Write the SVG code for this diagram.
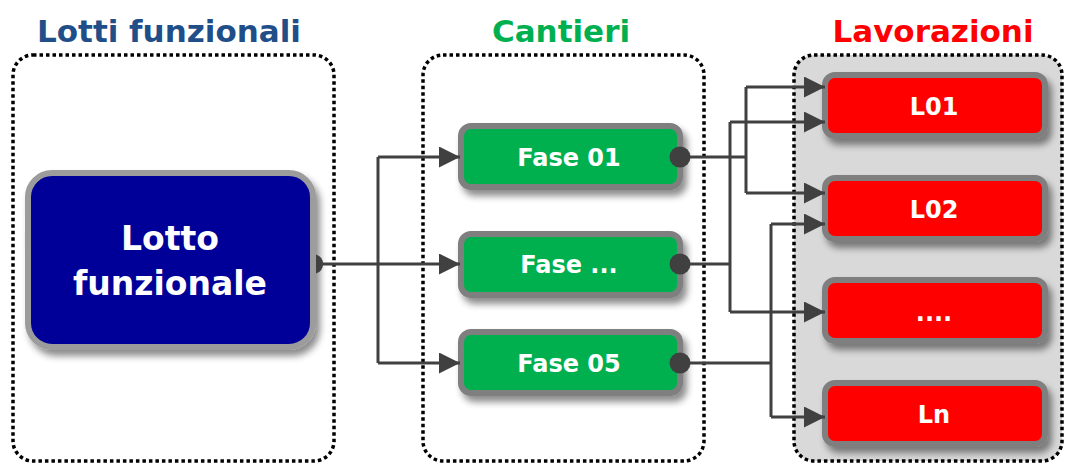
<svg xmlns="http://www.w3.org/2000/svg" width="1065" height="464" viewBox="0 0 1065 464">
<style>
.title{font-family:"DejaVu Sans","Liberation Sans",sans-serif;font-weight:bold;font-size:31px;text-anchor:middle}
.lbl{font-family:"DejaVu Sans","Liberation Sans",sans-serif;font-weight:bold;font-size:24px;fill:#fff;text-anchor:middle}
.big{font-family:"DejaVu Sans","Liberation Sans",sans-serif;font-weight:bold;font-size:33px;fill:#fff;text-anchor:middle}
.box{fill:none;stroke:#000;stroke-width:3.5;stroke-dasharray:3.5 3}
.fase{fill:#00b050;stroke:#7f7f7f;stroke-width:6}
.lav{fill:#ff0000;stroke:#7f7f7f;stroke-width:6}
.con{fill:none;stroke:#404040;stroke-width:3}
.arr{fill:none;stroke:#404040;stroke-width:3;marker-end:url(#ah)}
.dot{fill:#404040}
</style>
<defs>
<filter id="sh" x="-10%" y="-10%" width="125%" height="140%">
<feDropShadow dx="4" dy="6" stdDeviation="3.5" flood-color="#000" flood-opacity="0.45"/>
</filter>
<marker id="ah" markerUnits="userSpaceOnUse" markerWidth="21" markerHeight="21" refX="21" refY="10.5" orient="auto">
<path d="M0,0 L21,10.5 L0,21 Z" fill="#404040"/>
</marker>
</defs>
<rect width="1065" height="464" fill="#fff"/>
<g id="containers">
<rect class="box" x="13" y="55" width="321" height="406" rx="20"/>
<rect class="box" x="423" y="55" width="281" height="406" rx="20"/>
<rect class="box" x="794" y="55" width="268" height="406" rx="20" style="fill:#d9d9d9"/>
</g>
<g id="titles">
<text class="title" x="169" y="42" fill="#1f4e89">Lotti funzionali</text>
<text class="title" x="561" y="42" fill="#00b050">Cantieri</text>
<text class="title" x="933" y="42" fill="#ff0000">Lavorazioni</text>
</g>
<g id="lotto">
<rect x="28" y="173" width="285" height="174" rx="24" fill="#000099" stroke="#9c9c9c" stroke-width="6" filter="url(#sh)"/>
<text class="big" x="170" y="250">Lotto</text>
<text class="big" x="170" y="295">funzionale</text>
</g>
<g id="fase01">
<rect class="fase" x="461" y="126" width="219" height="61" rx="10" filter="url(#sh)"/>
<text class="lbl" x="569" y="166">Fase 01</text>
</g>
<g id="fasedots">
<rect class="fase" x="461" y="234" width="219" height="61" rx="10" filter="url(#sh)"/>
<text class="lbl" x="569" y="273">Fase ...</text>
</g>
<g id="fase05">
<rect class="fase" x="461" y="332" width="219" height="61" rx="10" filter="url(#sh)"/>
<text class="lbl" x="569" y="372">Fase 05</text>
</g>
<g id="l01">
<rect class="lav" x="825" y="75" width="220" height="61" rx="10" filter="url(#sh)"/>
<text class="lbl" x="934" y="115">L01</text>
</g>
<g id="l02">
<rect class="lav" x="825" y="178" width="220" height="61" rx="10" filter="url(#sh)"/>
<text class="lbl" x="934" y="218">L02</text>
</g>
<g id="ldots">
<rect class="lav" x="825" y="280" width="220" height="61" rx="10" filter="url(#sh)"/>
<text class="lbl" x="934" y="321">....</text>
</g>
<g id="ln">
<rect class="lav" x="825" y="383" width="220" height="61" rx="10" filter="url(#sh)"/>
<text class="lbl" x="934" y="423">Ln</text>
</g>
<g id="connectors">
<path class="dot" d="M316,254.46 A10,10 0 0 1 316,273.54 Z"/>
<path class="con" d="M316,264 H378 M378,157 V363"/>
<line class="arr" x1="378" y1="157" x2="460" y2="157"/>
<line class="arr" x1="378" y1="264" x2="460" y2="264"/>
<line class="arr" x1="378" y1="363" x2="460" y2="363"/>
<path class="con" d="M680,157 H746 M746,87 V193"/>
<line class="arr" x1="746" y1="87" x2="825" y2="87"/>
<line class="arr" x1="746" y1="193" x2="825" y2="193"/>
<path class="con" d="M680,264 H730 M730,122 V312"/>
<line class="arr" x1="730" y1="122" x2="825" y2="122"/>
<line class="arr" x1="730" y1="312" x2="825" y2="312"/>
<path class="con" d="M680,363 H771 M771,224 V417"/>
<line class="arr" x1="771" y1="224" x2="825" y2="224"/>
<line class="arr" x1="771" y1="417" x2="825" y2="417"/>
<circle class="dot" cx="680" cy="157" r="10.5"/>
<circle class="dot" cx="680" cy="264" r="10.5"/>
<circle class="dot" cx="680" cy="363" r="10.5"/>
</g>
</svg>
